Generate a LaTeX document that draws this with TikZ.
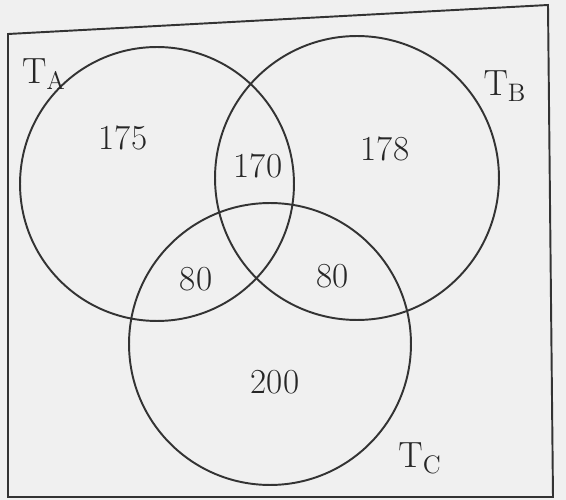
\documentclass[tikz,border=0pt]{standalone}
\usepackage{amsmath}
\usepackage{tikz}
\usetikzlibrary{positioning,calc}

\tikzset{
  setcirc/.style={draw=black!80,line width=1.1pt,circle,inner sep=0pt},
  countlbl/.style={font=\fontsize{20}{24}\selectfont,text=black!85},
  setlbl/.style={font=\fontsize{21}{25}\selectfont,text=black!85}
}

\begin{document}
\begin{tikzpicture}[x=0.02cm,y=-0.02cm]
\useasboundingbox (0,0) rectangle (566,500);
\fill[gray!12] (0,0) rectangle (566,500);
% frame (photo is slightly tilted)
\coordinate (tl) at (8,34);
\coordinate (tr) at (548,5);
\coordinate (br) at (553,497);
\coordinate (bl) at (8,497);
\draw[black!80,line width=1.1pt] (tl) -- (tr) -- (br) -- (bl) -- cycle;
% the three sets
\node[setcirc,minimum size=5.48cm] (A) at (157,184) {};
\node[setcirc,minimum size=5.68cm] (B) at (357,178) {};
\node[setcirc,minimum size=5.64cm] (C) at (270,344) {};
\node[setlbl] (tA) at (44,74) {$\mathrm{T}_{\mathrm{A}}$};
\node[setlbl] (tB) at (505,86) {$\mathrm{T}_{\mathrm{B}}$};
\node[setlbl] (tC) at (420,458) {$\mathrm{T}_{\mathrm{C}}$};
% region counts
\node[countlbl] (nA) at (123,138) {175};
\node[countlbl] (nAB) at (258,166) {170};
\node[countlbl] (nB) at (385,149) {178};
\node[countlbl] (nAC) at (196,279) {80};
\node[countlbl] (nBC) at (333,276) {80};
\node[countlbl] (nC) at (275,382) {200};
\end{tikzpicture}
\end{document}
